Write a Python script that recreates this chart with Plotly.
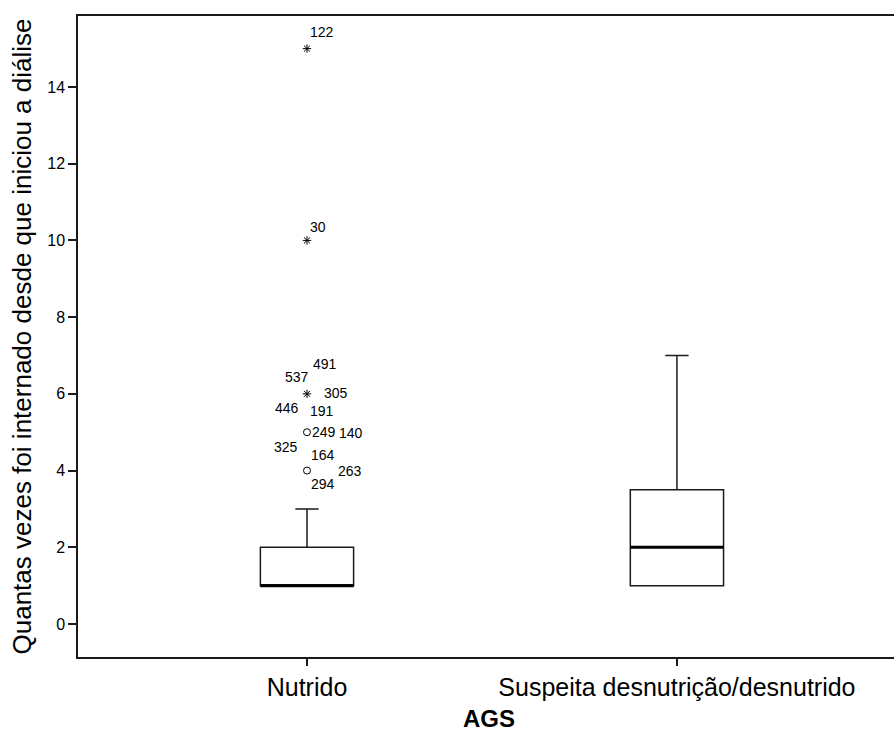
import plotly.graph_objects as go

# ---- data ----
groups = ["Nutrido", "Suspeita desnutrição/desnutrido"]
group_pos = [0, 1]
q1 = [1, 1]
median = [1, 2]
q3 = [2, 3.5]
lower_fence = [1, 1]
upper_fence = [3, 7]

# outliers of group "Nutrido"
outlier_values = [4, 5, 6, 10, 15]
outlier_kind = ["outlier", "outlier", "extreme", "extreme", "extreme"]

# case labels and the value each belongs to
case_ids = ["122", "30", "491", "537", "305", "446", "191",
            "249", "140", "325", "164", "263", "294"]
case_values = [15, 10, 6, 6, 6, 6, 6, 5, 5, 5, 5, 4, 4]

y_ticks = [0, 2, 4, 6, 8, 10, 12, 14]
y_title = "Quantas vezes foi internado desde que iniciou a diálise"
x_title = "AGS"

# ---- styling / placement (not data) ----
label_shift = [(15, 17), (11, 13), (18, 30), (-10, 17), (29, 1), (-20, -14), (15, -17),
               (17, 0), (44, -1), (-21, -15), (16, -23), (43, 0), (16, -13)]
FONT = "Liberation Sans, Arial, sans-serif"
BOXW = 0.252
LINE = "#1a1a1a"

fig = go.Figure()

fig.add_trace(go.Box(
    x=group_pos, q1=q1, median=median, q3=q3,
    lowerfence=lower_fence, upperfence=upper_fence,
    width=BOXW, whiskerwidth=0.25, boxpoints=False,
    fillcolor="white", line=dict(color=LINE, width=1.5),
    showlegend=False, hoverinfo="skip",
))

# thicker median lines
mx, my = [], []
for p, m in zip(group_pos, median):
    mx += [p - BOXW / 2, p + BOXW / 2, None]
    my += [m, m, None]
fig.add_trace(go.Scatter(x=mx, y=my, mode="lines",
                         line=dict(color="black", width=3),
                         showlegend=False, hoverinfo="skip"))

sym = {"outlier": "circle-open", "extreme": "asterisk-open"}
fig.add_trace(go.Scatter(
    x=[group_pos[0]] * len(outlier_values), y=outlier_values, mode="markers",
    marker=dict(symbol=[sym[k] for k in outlier_kind], size=7, color="black",
                line=dict(color="black", width=1)),
    showlegend=False, hoverinfo="skip"))

for cid, v, (dx, dy) in zip(case_ids, case_values, label_shift):
    fig.add_annotation(x=group_pos[0], y=v, text=cid, showarrow=False,
                       xshift=dx, yshift=dy,
                       font=dict(family=FONT, size=14, color="black"))

# x-axis title as annotation below the tick labels
fig.add_annotation(x=0.5, xref="paper", y=0, yref="paper", yshift=-46,
                   text="<b>" + x_title + "</b>", showarrow=False,
                   yanchor="top", font=dict(size=24, family=FONT, color="black"))

# the frame is open on the right: the plot area runs past the window edge
fig.update_layout(
    width=900, height=733,
    margin=dict(l=78, r=0, t=16, b=76),
    paper_bgcolor="white", plot_bgcolor="white",
    font=dict(family=FONT, color="black"),
    hovermode=False,
)
fig.update_xaxes(
    range=[-0.619, 1.603], tickvals=group_pos, ticktext=groups,
    ticks="outside", ticklen=7, tickcolor=LINE, tickwidth=1.5,
    tickfont=dict(size=25, family=FONT, color="black"),
    showline=True, mirror=True, linecolor=LINE, linewidth=1.5,
    showgrid=False, zeroline=False, automargin=False,
)
fig.update_yaxes(
    range=[-0.86, 15.85], tickvals=y_ticks,
    ticks="outside", ticklen=8, tickcolor=LINE, tickwidth=1.5,
    tickfont=dict(size=16, family=FONT, color="black"),
    showline=True, linecolor=LINE, linewidth=1.5,
    showgrid=False, zeroline=False, automargin=False,
    title=dict(text=y_title, font=dict(size=26, family=FONT, color="black"), standoff=8),
)

# remove the default 8px page margin so the figure fills the window exactly
fig.write_html("out.html",
               config={"displayModeBar": False},
               post_script="document.body.style.margin='0';document.body.style.overflow='hidden';")
